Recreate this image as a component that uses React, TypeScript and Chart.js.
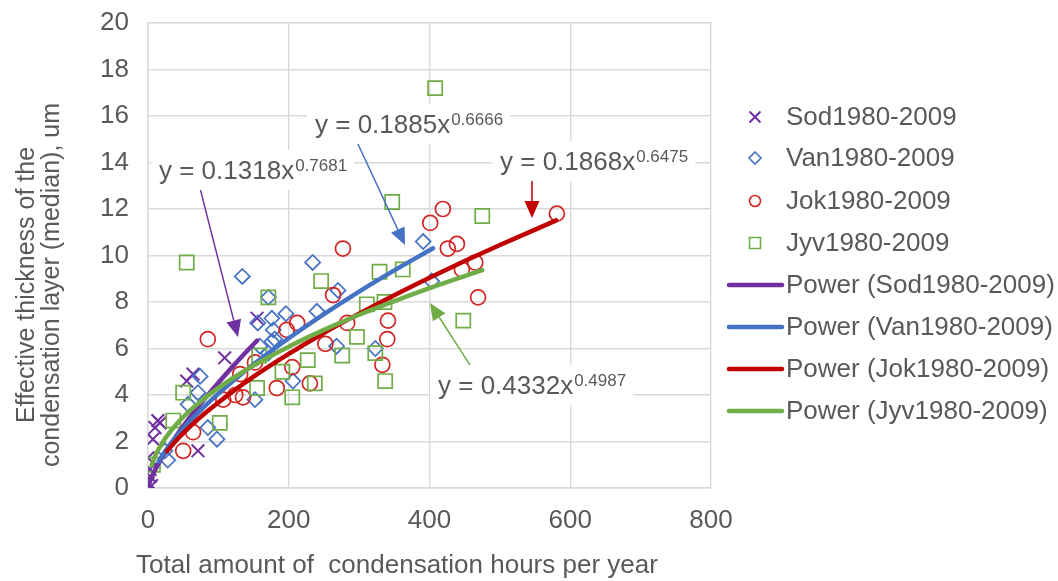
import React, { useEffect, useRef } from "react";
import { Chart, registerables } from "chart.js";

Chart.register(...registerables);

// ---------- data ----------
const seriesNames = ["Sod1980-2009", "Van1980-2009", "Jok1980-2009", "Jyv1980-2009"];
const trendNames = [
  "Power (Sod1980-2009)",
  "Power (Van1980-2009)",
  "Power (Jok1980-2009)",
  "Power (Jyv1980-2009)",
];

const sodX = [0, 3, 5, 0, 3, 7, 10, 14, 17, 55, 64, 71, 109, 155];
const sodY = [0.2, 0.5, 0.1, 1.3, 0.8, 2.1, 2.6, 2.9, 2.8, 4.6, 4.9, 1.6, 5.6, 7.3];

const vanX = [24, 28, 57, 71, 74, 85, 98, 134, 152, 156, 159, 171, 171, 176, 176, 178, 180, 196, 206, 234, 240, 268, 270, 323, 391, 403];
const vanY = [1.6, 1.2, 3.6, 4.1, 4.8, 2.6, 2.1, 9.1, 3.8, 7.1, 6.1, 8.2, 5.8, 7.3, 6.3, 6.8, 6.4, 7.5, 4.6, 9.7, 7.6, 6.1, 8.5, 6.0, 10.6, 8.9];

const jokX = [50, 64, 85, 107, 124, 131, 135, 152, 183, 197, 205, 212, 230, 252, 263, 277, 283, 333, 340, 341, 401, 419, 426, 439, 446, 465, 469, 581];
const jokY = [1.6, 2.4, 6.4, 3.8, 4.0, 4.9, 3.9, 5.4, 4.3, 6.8, 5.2, 7.1, 4.5, 6.2, 8.3, 10.3, 7.1, 5.3, 6.4, 7.2, 11.4, 12.0, 10.3, 10.5, 9.4, 9.7, 8.2, 11.8];

const jyvX = [7, 36, 50, 55, 102, 155, 158, 171, 191, 205, 227, 237, 246, 276, 297, 311, 323, 329, 336, 337, 347, 362, 408, 448, 475];
const jyvY = [1.0, 2.9, 4.1, 9.7, 2.8, 4.3, 5.7, 8.2, 5.0, 3.9, 5.5, 4.5, 8.9, 5.7, 6.5, 7.9, 5.8, 9.3, 8.0, 4.6, 12.3, 9.4, 17.2, 7.2, 11.7];

// power trend lines
const trendSodX = [1, 5, 10, 20, 40, 60, 80, 100, 120, 140, 155];
const trendSodY = [0.13, 0.45, 0.77, 1.32, 2.24, 3.06, 3.82, 4.53, 5.21, 5.87, 6.34];
const trendVanX = [15, 25, 40, 60, 80, 100, 150, 200, 250, 300, 350, 405];
const trendVanY = [1.15, 1.61, 2.2, 2.89, 3.5, 4.06, 5.32, 6.44, 7.48, 8.45, 9.36, 10.31];
const trendJokX = [27, 40, 60, 80, 100, 150, 200, 250, 300, 350, 400, 450, 500, 580];
const trendJokY = [1.58, 2.04, 2.65, 3.19, 3.68, 4.79, 5.77, 6.67, 7.5, 8.29, 9.04, 9.76, 10.45, 11.51];
const trendJyvX = [5, 10, 20, 40, 60, 80, 100, 150, 200, 250, 300, 350, 400, 475];
const trendJyvY = [0.97, 1.37, 1.93, 2.73, 3.34, 3.85, 4.31, 5.27, 6.08, 6.8, 7.45, 8.04, 8.6, 9.37];

const xTicks = [0, 200, 400, 600, 800];
const yTicks = [0, 2, 4, 6, 8, 10, 12, 14, 16, 18, 20];

const eqBase = ["y = 0.1318x", "y = 0.1885x", "y = 0.1868x", "y = 0.4332x"];
const eqExp = ["0.7681", "0.6666", "0.6475", "0.4987"];

const xTitle = "Total amount of  condensation hours per year";
const yTitle = ["Effective thickness of the", "condensation layer (median), um"];

// ---------- styles ----------
const W = 1058;
const H = 581;
const FONT = '"Liberation Sans", Arial, Helvetica, sans-serif';
const TEXT = "#595959";
const GRID = "#d9d9d9";
const PURPLE = "#7030A0";
const BLUE = "#4472C4";
const RED = "#C00000";
const RED_MARK = "#D42424";
const GREEN = "#70AD47";

// annotation anchors (data space)
const LABEL_POS = [
  { x: 15.6, y: 13.68 },
  { x: 237.3, y: 15.66 },
  { x: 500.2, y: 14.06 },
  { x: 412.1, y: 4.43 },
];
const ARROWS = [
  { from: [73.9, 12.9], to: [127.9, 6.49], color: PURPLE },
  { from: [297, 14.88], to: [365.2, 10.45], color: BLUE },
  { from: [545.6, 13.89], to: [545.6, 11.61], color: RED },
  { from: [464.7, 4.95], to: [400.7, 7.96], color: GREEN },
];

const pts = (xs: number[], ys: number[]) => xs.map((x, i) => ({ x, y: ys[i] }));

function drawMarker(ctx: CanvasRenderingContext2D, kind: string, x: number, y: number, s: number, color: string) {
  ctx.save();
  ctx.strokeStyle = color;
  ctx.lineWidth = kind === "cross" ? 2 : 1.6;
  ctx.beginPath();
  if (kind === "cross") {
    ctx.moveTo(x - s, y - s);
    ctx.lineTo(x + s, y + s);
    ctx.moveTo(x - s, y + s);
    ctx.lineTo(x + s, y - s);
  } else if (kind === "diamond") {
    ctx.moveTo(x, y - s);
    ctx.lineTo(x + s, y);
    ctx.lineTo(x, y + s);
    ctx.lineTo(x - s, y);
    ctx.closePath();
  } else if (kind === "circle") {
    ctx.arc(x, y, s, 0, Math.PI * 2);
  } else {
    ctx.rect(x - s, y - s, 2 * s, 2 * s);
  }
  ctx.stroke();
  ctx.restore();
}

const overlayPlugin = {
  id: "overlay",
  afterDatasetsDraw(chart: any) {
    const ctx: CanvasRenderingContext2D = chart.ctx;
    const xs = chart.scales.x;
    const ys = chart.scales.y;
    // arrows
    ARROWS.forEach((a) => {
      const x1 = xs.getPixelForValue(a.from[0]);
      const y1 = ys.getPixelForValue(a.from[1]);
      const x2 = xs.getPixelForValue(a.to[0]);
      const y2 = ys.getPixelForValue(a.to[1]);
      const ang = Math.atan2(y2 - y1, x2 - x1);
      const L = 17;
      const HW = 7.5;
      const bx = x2 - L * Math.cos(ang);
      const by = y2 - L * Math.sin(ang);
      ctx.save();
      ctx.strokeStyle = a.color;
      ctx.fillStyle = a.color;
      ctx.lineWidth = 1.5;
      ctx.beginPath();
      ctx.moveTo(x1, y1);
      ctx.lineTo(bx, by);
      ctx.stroke();
      ctx.beginPath();
      ctx.moveTo(x2, y2);
      ctx.lineTo(bx + HW * Math.sin(ang), by - HW * Math.cos(ang));
      ctx.lineTo(bx - HW * Math.sin(ang), by + HW * Math.cos(ang));
      ctx.closePath();
      ctx.fill();
      ctx.restore();
    });
    // equation labels
    LABEL_POS.forEach((p, i) => {
      const lx = xs.getPixelForValue(p.x);
      const cy = ys.getPixelForValue(p.y);
      ctx.save();
      ctx.font = `26px ${FONT}`;
      const w1 = ctx.measureText(eqBase[i]).width;
      ctx.font = `17px ${FONT}`;
      const w2 = ctx.measureText(eqExp[i]).width;
      ctx.fillStyle = "#ffffff";
      ctx.fillRect(lx - 8, cy - 20, w1 + w2 + 16, 40);
      ctx.fillStyle = TEXT;
      ctx.textAlign = "left";
      ctx.textBaseline = "alphabetic";
      ctx.font = `26px ${FONT}`;
      ctx.fillText(eqBase[i], lx, cy + 9);
      ctx.font = `17px ${FONT}`;
      ctx.fillText(eqExp[i], lx + w1 + 1, cy + 1);
      ctx.restore();
    });
  },
  afterDraw(chart: any) {
    const ctx: CanvasRenderingContext2D = chart.ctx;
    const area = chart.chartArea;
    ctx.save();
    // legend
    const lx = area.right + 17;
    const rows = [117, 158, 201, 243, 285, 327, 369, 411];
    const kinds = ["cross", "diamond", "circle", "square"];
    const markColors = [PURPLE, BLUE, RED_MARK, GREEN];
    const lineColors = [PURPLE, BLUE, RED, GREEN];
    const sizes = [5.5, 6, 5.5, 5.5];
    ctx.font = `26px ${FONT}`;
    ctx.fillStyle = TEXT;
    ctx.textBaseline = "middle";
    ctx.textAlign = "left";
    for (let i = 0; i < 4; i++) {
      const y = rows[i];
      drawMarker(ctx, kinds[i], lx + 27, y, sizes[i], markColors[i]);
      ctx.fillStyle = TEXT;
      ctx.fillText(seriesNames[i], lx + 58, y + 1);
    }
    for (let i = 0; i < 4; i++) {
      const y = rows[i + 4];
      ctx.strokeStyle = lineColors[i];
      ctx.lineWidth = 4.5;
      ctx.lineCap = "round";
      ctx.beginPath();
      ctx.moveTo(lx + 1, y);
      ctx.lineTo(lx + 54, y);
      ctx.stroke();
      ctx.fillStyle = TEXT;
      ctx.fillText(trendNames[i], lx + 58, y + 1);
    }
    // axis titles
    ctx.fillStyle = TEXT;
    ctx.textAlign = "center";
    ctx.textBaseline = "middle";
    ctx.font = `26px ${FONT}`;
    ctx.fillText(xTitle, 397, 566);
    ctx.font = `25px ${FONT}`;
    const cyT = 285;
    [27, 52].forEach((cx, i) => {
      ctx.save();
      ctx.translate(cx, cyT);
      ctx.rotate(-Math.PI / 2);
      ctx.fillText(yTitle[i], 0, 0);
      ctx.restore();
    });
    ctx.restore();
  },
};

export default function App() {
  const ref = useRef<HTMLCanvasElement | null>(null);

  useEffect(() => {
    if (!ref.current) return;
    const scatterBase = { type: "scatter", backgroundColor: "rgba(0,0,0,0)", showLine: false };
    const lineBase = {
      type: "line",
      pointRadius: 0,
      borderWidth: 4.5,
      fill: false,
      tension: 0.4,
      cubicInterpolationMode: "monotone",
      borderCapStyle: "round",
    };
    const chart = new Chart(ref.current, {
      type: "scatter",
      data: {
        datasets: [
          { ...scatterBase, label: seriesNames[0], data: pts(sodX, sodY), pointStyle: "crossRot", pointRadius: 9, borderColor: PURPLE, borderWidth: 2, order: 8 },
          { ...scatterBase, label: seriesNames[1], data: pts(vanX, vanY), pointStyle: "rectRot", pointRadius: 7.5, borderColor: BLUE, borderWidth: 1.7, order: 7 },
          { ...scatterBase, label: seriesNames[2], data: pts(jokX, jokY), pointStyle: "circle", pointRadius: 7.5, borderColor: RED_MARK, borderWidth: 1.7, order: 6 },
          { ...scatterBase, label: seriesNames[3], data: pts(jyvX, jyvY), pointStyle: "rect", pointRadius: 10, borderColor: GREEN, borderWidth: 1.7, order: 5 },
          { ...lineBase, label: trendNames[0], data: pts(trendSodX, trendSodY), borderColor: PURPLE, order: 4 },
          { ...lineBase, label: trendNames[1], data: pts(trendVanX, trendVanY), borderColor: BLUE, order: 3 },
          { ...lineBase, label: trendNames[2], data: pts(trendJokX, trendJokY), borderColor: RED, order: 2 },
          { ...lineBase, label: trendNames[3], data: pts(trendJyvX, trendJyvY), borderColor: GREEN, order: 1 },
        ] as any,
      },
      options: {
        responsive: false,
        animation: false,
        events: [],
        layout: { padding: { top: 23, right: W - 711, left: 0, bottom: 0 } },
        plugins: { legend: { display: false }, tooltip: { enabled: false }, title: { display: false } },
        scales: {
          x: {
            type: "linear",
            min: 0,
            max: 800,
            afterBuildTicks: (s: any) => {
              s.ticks = xTicks.map((v) => ({ value: v }));
            },
            afterFit: (s: any) => {
              s.height = H - 488;
              s.paddingLeft = 0;
              s.paddingRight = 0;
            },
            ticks: { color: TEXT, font: { family: FONT, size: 26 }, padding: 17, maxRotation: 0, autoSkip: false },
            grid: { color: GRID, lineWidth: 1.4, drawTicks: false },
            border: { color: GRID, width: 1.4 },
          },
          y: {
            type: "linear",
            min: 0,
            max: 20,
            afterBuildTicks: (s: any) => {
              s.ticks = yTicks.map((v) => ({ value: v }));
            },
            afterFit: (s: any) => {
              s.width = 148;
              s.paddingTop = 0;
              s.paddingBottom = 0;
            },
            ticks: { color: TEXT, font: { family: FONT, size: 26 }, padding: 19, autoSkip: false },
            grid: { color: GRID, lineWidth: 1.4, drawTicks: false },
            border: { color: GRID, width: 1.4 },
          },
        },
      } as any,
      plugins: [overlayPlugin as any],
    });
    return () => chart.destroy();
  }, []);

  return (
    <canvas
      ref={ref}
      width={W}
      height={H}
      style={{ display: "block", position: "absolute", left: 0, top: 0 }}
    />
  );
}
